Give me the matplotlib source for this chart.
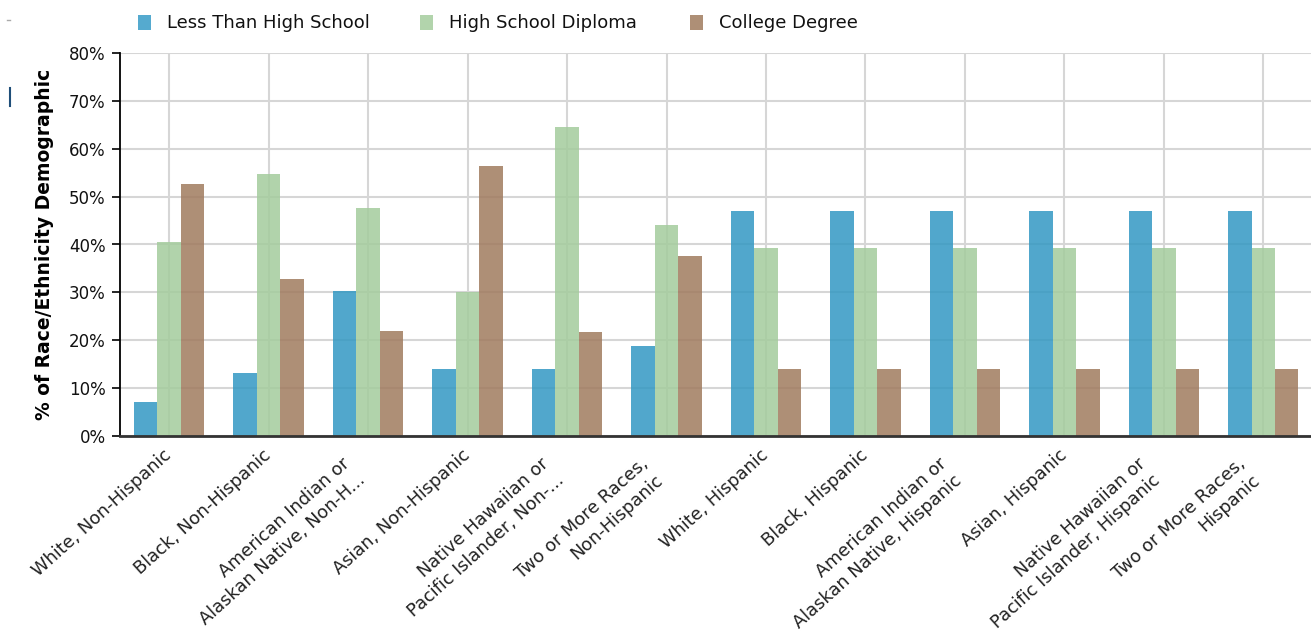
import matplotlib
matplotlib.use("Agg")
import matplotlib.pyplot as plt
import numpy as np
from matplotlib.patches import Rectangle
from matplotlib.lines import Line2D
import matplotlib.transforms as mtransforms

categories = [
    "White, Non-Hispanic",
    "Black, Non-Hispanic",
    "American Indian or\nAlaskan Native, Non-H...",
    "Asian, Non-Hispanic",
    "Native Hawaiian or\nPacific Islander, Non-...",
    "Two or More Races,\nNon-Hispanic",
    "White, Hispanic",
    "Black, Hispanic",
    "American Indian or\nAlaskan Native, Hispanic",
    "Asian, Hispanic",
    "Native Hawaiian or\nPacific Islander, Hispanic",
    "Two or More Races,\nHispanic",
]
less_than_hs = [7.0, 13.1, 30.2, 14.0, 14.0, 18.8, 47.0, 47.0, 47.0, 47.0, 47.0, 47.0]
hs_diploma = [40.5, 54.8, 47.7, 30.0, 64.5, 44.0, 39.2, 39.2, 39.2, 39.2, 39.2, 39.2]
college = [52.7, 32.7, 22.0, 56.3, 21.7, 37.5, 14.0, 14.0, 14.0, 14.0, 14.0, 14.0]
series_names = ["Less Than High School", "High School Diploma", "College Degree"]
yticks = [0, 10, 20, 30, 40, 50, 60, 70, 80]
ytick_labels = ["0%", "10%", "20%", "30%", "40%", "50%", "60%", "70%", "80%"]

colors = ["#3398c3", "#a4cc9d", "#a07b5e"]
legend_colors = ["#55aacf", "#b2d4ac", "#ae8f76"]

W, H = 1311, 636
fig = plt.figure(figsize=(W / 100, H / 100), dpi=100)
fig.patch.set_facecolor("white")
ax = fig.add_axes([119.5 / W, 200 / H, (1313 - 119.5) / W, 383 / H])

x = np.arange(len(categories))
bw = 0.236
series = [less_than_hs, hs_diploma, college]
for i, (vals, c) in enumerate(zip(series, colors)):
    ax.bar(x + (i - 1) * bw, vals, width=bw, color=c, alpha=0.85,
           linewidth=0, zorder=3, label=series_names[i])

ax.set_xlim(-0.5, len(categories) - 0.5)
ax.set_ylim(0, 80)
ax.set_yticks(yticks)
ax.set_yticklabels(ytick_labels, fontsize=12, family="DejaVu Sans", color="#111111")
ax.set_xticks(x)
ax.set_xticklabels(categories, rotation=42, ha="right", va="center",
                   rotation_mode="anchor", fontsize=12.8, family="DejaVu Sans",
                   color="#222222", linespacing=1.3)
ax.tick_params(axis="x", length=0, pad=12.2)
ax.tick_params(axis="y", length=6, width=1.2, color="black", pad=4, direction="out")

# shift two-line labels further along their baseline, as in the reference
shift = mtransforms.ScaledTranslation(-9.5 / 72, -12.0 / 72, fig.dpi_scale_trans)
for lab in ax.get_xticklabels():
    if "\n" in lab.get_text():
        lab.set_transform(lab.get_transform() + shift)

ax.grid(True, color="#d6d6d6", linewidth=1.5, zorder=0)
ax.set_axisbelow(True)
for s in ["top", "right"]:
    ax.spines[s].set_visible(False)
ax.spines["left"].set_color("black")
ax.spines["left"].set_linewidth(1.3)
ax.spines["bottom"].set_color("#333333")
ax.spines["bottom"].set_linewidth(2.0)
ax.spines["bottom"].set_zorder(5)

ax.set_ylabel("% of Race/Ethnicity Demographic", fontsize=13.5, fontweight="bold",
              family="DejaVu Sans", labelpad=10.5)

# legend drawn manually in figure pixels
leg_x = [138, 420, 690]
for name, c, lx in zip(series_names, legend_colors, leg_x):
    fig.patches.append(Rectangle((lx / W, (H - 30) / H), 13 / W, 15 / H,
                                 transform=fig.transFigure, facecolor=c,
                                 edgecolor="none"))
    fig.text((lx + 29) / W, (H - 23) / H, name, fontsize=13, family="DejaVu Sans",
             va="center", ha="left", color="#111111")

# small artifacts at left edge
fig.lines.append(Line2D([10 / W, 10 / W], [(H - 88) / H, (H - 106) / H],
                        transform=fig.transFigure, color="#1f4e79", linewidth=1.5))
fig.lines.append(Line2D([7 / W, 10 / W], [(H - 20) / H, (H - 20) / H],
                        transform=fig.transFigure, color="#aaaaaa", linewidth=1))

fig.savefig("out.png", dpi=100)
